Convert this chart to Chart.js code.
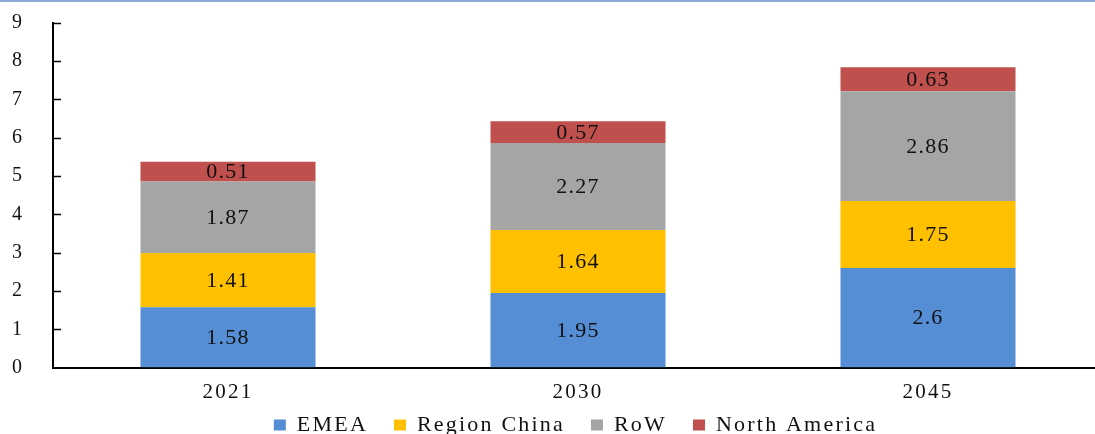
<!DOCTYPE html>
<html>
<head>
<meta charset="utf-8">
<title>Regional volumes 2021–2045</title>
<script src="https://cdn.jsdelivr.net/npm/chart.js@4/dist/chart.umd.min.js"></script>
<style>
  html, body { margin: 0; padding: 0; background: #fff; }
  #frame { position: relative; width: 1095px; height: 434px; overflow: hidden; background: #fff; }
  #frame .rule { position: absolute; left: 0; top: 0; width: 100%; height: 2px; background: #8eaadb; z-index: 2; }
  #plot { position: absolute; left: 0; top: 0; }
</style>
</head>
<body>
<div id="frame">
  <div class="rule"></div>
  <canvas id="plot" width="1110" height="434"></canvas>
</div>
<script>
// Categories and stacked series
const years = ['2021', '2030', '2045'];
const seriesNames = ['EMEA', 'Region China', 'RoW', 'North America'];
const emea = [1.58, 1.95, 2.6];
const regionChina = [1.41, 1.64, 1.75];
const row = [1.87, 2.27, 2.86];
const northAmerica = [0.51, 0.57, 0.63];
const yTicks = [0, 1, 2, 3, 4, 5, 6, 7, 8, 9];

const seriesColors = ['#558ed5', '#ffc000', '#a5a5a5', '#c0504d'];
const seriesValues = [emea, regionChina, row, northAmerica];

const SERIF = '"Liberation Serif", "Times New Roman", Times, serif';

// Letter spacing applied to the different text groups
const AXIS_SPACING = '2.2px';
const LEGEND_SPACING = '2.2px';
const VALUE_SPACING = '1.2px';

// Space the legend reserves in the layout, the height it actually draws in,
// and how far its box is widened on the left so the row centres under the plot
const LEGEND_BAND = 29;
const LEGEND_DRAW_HEIGHT = 46;
const LEGEND_LEFT_OFFSET = 36;

function withSpacing(ctx, spacing, fn) {
  const prev = ctx.letterSpacing;
  ctx.letterSpacing = spacing;
  try { fn(); } finally { ctx.letterSpacing = prev; }
}

// Wider legend lettering and a compact legend band
const legendTweaks = {
  id: 'legendTweaks',
  beforeUpdate(chart) {
    const lg = chart.legend;
    if (lg && !lg.__tweaked) {
      const fit = lg.fit, draw = lg.draw;
      lg.fit = function () {
        withSpacing(this.ctx, LEGEND_SPACING, () => fit.call(this));
        this.height = LEGEND_BAND;
      };
      lg.draw = function (area) {
        withSpacing(this.ctx, LEGEND_SPACING, () => draw.call(this, area));
      };
      lg.__tweaked = true;
    }
  },
  afterLayout(chart) {
    const lg = chart.legend;
    if (!lg) return;
    lg.top = lg.bottom - LEGEND_DRAW_HEIGHT;
    lg.left = lg.left + LEGEND_LEFT_OFFSET;
  },
  beforeDraw(chart) {
    chart.ctx.letterSpacing = AXIS_SPACING;
  }
};

// Inward tick marks on the value axis
const innerTicks = {
  id: 'innerTicks',
  afterDraw(chart) {
    const y = chart.scales.y;
    const ctx = chart.ctx;
    const x0 = chart.chartArea.left;
    ctx.save();
    ctx.strokeStyle = '#000';
    ctx.lineWidth = 1.5;
    ctx.beginPath();
    yTicks.forEach(v => {
      if (v === 0) return;
      const py = Math.round(y.getPixelForValue(v)) + 0.5;
      ctx.moveTo(x0, py);
      ctx.lineTo(x0 + 8, py);
    });
    ctx.stroke();
    ctx.restore();
  }
};

// Value label centred inside each stacked segment
const segmentLabels = {
  id: 'segmentLabels',
  afterDatasetsDraw(chart) {
    const ctx = chart.ctx;
    ctx.save();
    ctx.font = '22px ' + SERIF;
    ctx.fillStyle = '#111';
    ctx.textAlign = 'center';
    ctx.textBaseline = 'middle';
    withSpacing(ctx, VALUE_SPACING, () => {
      chart.data.datasets.forEach((ds, di) => {
        const meta = chart.getDatasetMeta(di);
        meta.data.forEach((bar, i) => {
          const v = ds.data[i];
          const p = bar.getProps(['x', 'y', 'base'], true);
          ctx.fillText(String(v), p.x, (p.y + p.base) / 2 + 1);
        });
      });
    });
    ctx.restore();
  }
};

new Chart(document.getElementById('plot'), {
  type: 'bar',
  data: {
    labels: years,
    datasets: seriesNames.map((name, i) => ({
      label: name,
      data: seriesValues[i],
      backgroundColor: seriesColors[i],
      borderWidth: 0,
      barPercentage: 0.5,
      categoryPercentage: 1.0
    }))
  },
  options: {
    responsive: false,
    animation: false,
    events: [],
    layout: { padding: { top: 22.7, right: 7, bottom: 0, left: 12 } },
    scales: {
      x: {
        stacked: true,
        grid: { display: true, drawOnChartArea: false, drawTicks: false },
        border: { display: true, color: '#000', width: 2 },
        ticks: { color: '#111', padding: 12, font: { family: SERIF, size: 21 } },
        afterFit(scale) { scale.height = 37.3; }
      },
      y: {
        stacked: true,
        min: 0,
        max: 9,
        grid: { display: true, drawOnChartArea: false, drawTicks: false },
        border: { display: true, color: '#000', width: 2 },
        ticks: {
          stepSize: 1,
          color: '#111',
          padding: 0,
          crossAlign: 'far',
          font: { family: SERIF, size: 20 },
          callback: (v) => yTicks.includes(v) ? String(v) : ''
        },
        afterFit(scale) { scale.width = 41; }
      }
    },
    plugins: {
      legend: {
        position: 'bottom',
        labels: {
          color: '#111',
          font: { family: SERIF, size: 22 },
          boxWidth: 12,
          boxHeight: 11,
          padding: 26
        }
      },
      tooltip: { enabled: false },
      title: { display: false }
    }
  },
  plugins: [legendTweaks, innerTicks, segmentLabels]
});
</script>
</body>
</html>
